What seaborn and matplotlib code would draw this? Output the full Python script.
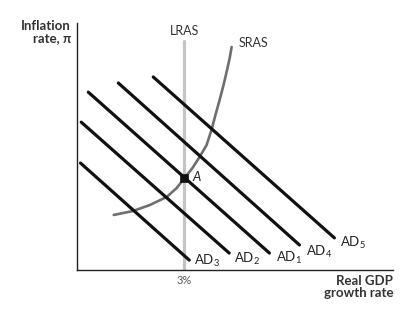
import matplotlib
matplotlib.use("Agg")
import matplotlib.pyplot as plt
import seaborn as sns
import pandas as pd

sns.set_theme(style="white")
plt.rcParams['font.family'] = ['Lato', 'DejaVu Sans']
plt.rcParams['mathtext.fontset'] = 'custom'
plt.rcParams['mathtext.rm'] = 'Lato'
plt.rcParams['mathtext.it'] = 'Lato:italic'

# ---- data ----
ad_names = ["AD3", "AD2", "AD1", "AD4", "AD5"]
ad_x_start = [0.06, 0.08, 0.28, 1.13, 2.12]
ad_y_start = [3.03, 4.19, 5.04, 5.30, 5.47]
ad_x_end = [3.14, 4.27, 5.41, 6.26, 7.25]
ad_y_end = [0.28, 0.48, 0.48, 0.71, 0.91]

sras_x = [1.00, 1.54, 2.02, 2.50, 2.78, 3.00, 3.23, 3.43, 3.63, 3.77, 3.88, 4.00, 4.11, 4.21, 4.285, 4.34]
sras_y = [1.56, 1.67, 1.84, 2.07, 2.32, 2.60, 2.89, 3.20, 3.54, 3.97, 4.39, 4.82, 5.24, 5.67, 6.01, 6.32]

lras_x = [3.0, 3.0]
lras_y = [0.0, 6.5]

point_a_x = [3.0]
point_a_y = [2.6]

x_tick_label = "3%"

# ---- figure ----
fig = plt.figure(figsize=(4.17, 3.23), dpi=100)
ax = fig.add_axes([77/417, 53/323, 316/417, 247/323])
ax.set_xlim(-0.04, 8.91)
ax.set_ylim(0, 7)

# LRAS
sns.lineplot(x=lras_x, y=lras_y, ax=ax, color="#c4c4c4", linewidth=2.3, sort=False,
             estimator=None, zorder=1)

# AD lines
rows = []
for n, xs, ys, xe, ye in zip(ad_names, ad_x_start, ad_y_start, ad_x_end, ad_y_end):
    rows.append({"curve": n, "x": xs, "y": ys})
    rows.append({"curve": n, "x": xe, "y": ye})
ad_df = pd.DataFrame(rows)
sns.lineplot(data=ad_df, x="x", y="y", units="curve", estimator=None, sort=False,
             color="#111111", linewidth=2.3, ax=ax, zorder=3, legend=False)

# SRAS
sns.lineplot(x=sras_x, y=sras_y, ax=ax, color="#6e6e6e", linewidth=1.9, sort=False,
             estimator=None, zorder=2)

# Point A
sns.scatterplot(x=point_a_x, y=point_a_y, ax=ax, color="#111111", marker="s", s=40,
                edgecolor="#111111", zorder=5, legend=False)
ax.text(3.22, 2.64, "A", style="italic", fontsize=9.5, ha="left", va="center", color="#222222")

# AD labels
ad_label_pos = [(3.28, 0.27), (4.42, 0.31), (5.60, 0.33), (6.45, 0.51), (7.42, 0.77)]
for n, (lx, ly) in zip(ad_names, ad_label_pos):
    ax.text(lx, ly, r"AD$_{\mathrm{%s}}$" % n[2:], fontsize=9.5, ha="left", va="center", color="#222222")

ax.text(3.0, 6.6, "LRAS", fontsize=9, ha="center", va="bottom", color="#333333")
ax.text(4.55, 6.25, "SRAS", fontsize=9, ha="left", va="bottom", color="#333333")

# axes styling
for s in ["top", "right"]:
    ax.spines[s].set_visible(False)
for s in ["left", "bottom"]:
    ax.spines[s].set_color("#222222")
    ax.spines[s].set_linewidth(1.0)
ax.set_xticks([])
ax.set_yticks([])
ax.set_xlabel("")
ax.set_ylabel("")

fig.text(71/417, 1 - 20/323, "Inflation\nrate, \u03c0", fontsize=9.5, fontweight="bold",
         ha="right", va="top", color="#333333", linespacing=1.0)
fig.text(393/417, 1 - 275/323, "Real GDP\ngrowth rate", fontsize=9.5, fontweight="bold",
         ha="right", va="top", color="#333333", linespacing=1.0)
fig.text(184/417, 1 - 281/323, x_tick_label, fontsize=8, ha="center", va="center", color="#555555")

fig.savefig("out.png", dpi=100)
